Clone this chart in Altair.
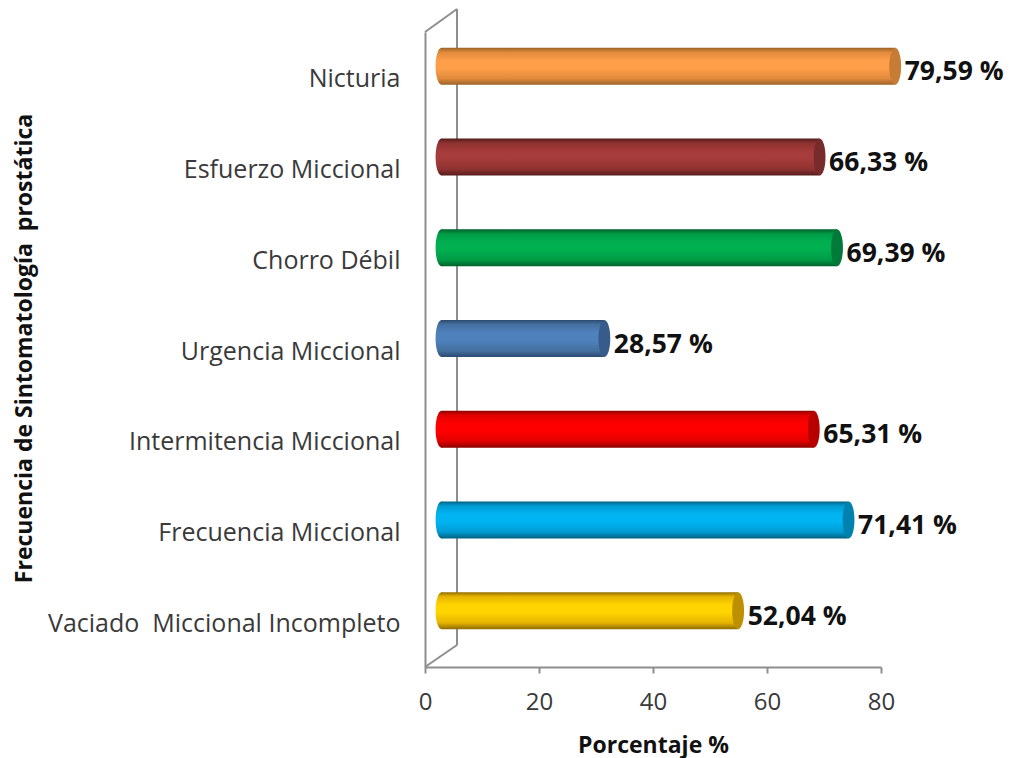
import altair as alt
import pandas as pd

# Symptom frequencies, listed top to bottom
categories = [
    "Nicturia",
    "Esfuerzo Miccional",
    "Chorro Débil",
    "Urgencia Miccional",
    "Intermitencia Miccional",
    "Frecuencia Miccional",
    "Vaciado\u00a0\u00a0Miccional Incompleto",
]
values = [79.59, 66.33, 69.39, 28.57, 65.31, 71.41, 52.04]
bright = ["#FF9F4A", "#A63C3B", "#00B050", "#4F81BD", "#FF0000", "#00B4F2", "#FFD400"]
mid = ["#E08A3C", "#8E3231", "#009A45", "#44709F", "#E00000", "#009BD2", "#E6B400"]
edge = ["#9C6228", "#551C1B", "#00602C", "#2C4A70", "#8C0000", "#00617F", "#8F6C00"]
cap = ["#C67C34", "#772B2A", "#007A38", "#375C8C", "#B80000", "#0082B0", "#BC9000"]

BAR_H = 37
DEPTH_X = 16.5
DEPTH_Y = -11
AXIS_GREY = "#8E8E8E"
FONT = "Open Sans"
CAP_PATH = "M-0.32,0 C-0.32,-0.55 -0.18,-1 0,-1 C0.18,-1 0.32,-0.55 0.32,0 C0.32,0.55 0.18,1 0,1 C-0.18,1 -0.32,0.55 -0.32,0 Z"

x_scale = alt.Scale(domain=[0, 80], range=[0, 456], nice=False, zero=True)
y_scale = alt.Scale(domain=categories, paddingInner=0, paddingOuter=0)

x_axis = alt.Axis(
    title="Porcentaje %",
    values=[0, 20, 40, 60, 80],
    grid=False,
    labelFont=FONT,
    labelFontSize=24,
    labelColor="#3A3A3A",
    labelPadding=17,
    labelFlush=False,
    domainColor=AXIS_GREY,
    domainWidth=2,
    tickColor=AXIS_GREY,
    tickWidth=2,
    tickSize=6,
    titleFont=FONT,
    titleFontSize=23,
    titleFontWeight="bold",
    titleColor="#111111",
    titleX=228,
    titleY=67,
)
y_axis = alt.Axis(
    title="Frecuencia de Sintomatología\u00a0\u00a0prostática",
    grid=False,
    ticks=False,
    labelFont=FONT,
    labelFontSize=25,
    labelColor="#3A3A3A",
    labelPadding=25,
    labelLimit=400,
    labelOffset=2,
    domainColor=AXIS_GREY,
    domainWidth=2,
    titleFont=FONT,
    titleFontSize=23,
    titleFontWeight="bold",
    titleColor="#111111",
    titleAngle=270,
    titleX=-389,
    titleY=316,
)


def wall(x1, y1, x2, y2):
    """One grey edge of the chart's back wall, in plot-area pixels."""
    return alt.Chart(pd.DataFrame({"k": [0]})).mark_rule(
        color=AXIS_GREY, strokeWidth=2
    ).encode(
        x=alt.value(x1), y=alt.value(y1), x2=alt.value(x2), y2=alt.value(y2)
    )


walls = [
    wall(0, 0, 32, -23),
    wall(32, -23, 32, 613),
    wall(32, 613, 0, 635),
]


def shading(i):
    return alt.Gradient(
        gradient="linear",
        x1=0, x2=0, y1=0, y2=1,
        stops=[
            alt.GradientStop(offset=0, color=edge[i]),
            alt.GradientStop(offset=0.12, color=mid[i]),
            alt.GradientStop(offset=0.35, color=bright[i]),
            alt.GradientStop(offset=0.55, color=bright[i]),
            alt.GradientStop(offset=0.83, color=mid[i]),
            alt.GradientStop(offset=1, color=edge[i]),
        ],
    )


layers = []
for i, (name, value) in enumerate(zip(categories, values)):
    row = pd.DataFrame({
        "symptom": [name],
        "pct": [value],
        "zero": [0],
        "label": [f"{value:.2f}".replace(".", ",") + " %"],
    })
    base = alt.Chart(row)
    y = alt.Y("symptom:N", scale=y_scale, axis=y_axis, sort=categories)
    body = base.mark_bar(
        fill=shading(i), height=BAR_H, xOffset=DEPTH_X, x2Offset=DEPTH_X,
        yOffset=DEPTH_Y, y2Offset=DEPTH_Y,
    ).encode(
        x=alt.X("zero:Q", scale=x_scale, axis=x_axis),
        x2="pct:Q",
        y=y,
    )
    start = base.mark_point(
        shape=CAP_PATH, filled=True, fill=shading(i), opacity=1, size=BAR_H ** 2,
        strokeWidth=0, xOffset=DEPTH_X, yOffset=DEPTH_Y,
    ).encode(x=alt.X("zero:Q", scale=x_scale, axis=x_axis), y=y)
    end = base.mark_point(
        shape=CAP_PATH, filled=True, fill=cap[i], opacity=1, size=BAR_H ** 2,
        strokeWidth=0, xOffset=DEPTH_X, yOffset=DEPTH_Y,
    ).encode(x=alt.X("pct:Q", scale=x_scale, axis=x_axis), y=y)
    text = base.mark_text(
        align="left", baseline="middle", font=FONT, fontSize=26.5, fontWeight="bold",
        color="#111111", xOffset=26, yOffset=-5,
    ).encode(x=alt.X("pct:Q", scale=x_scale, axis=x_axis), y=y, text="label:N")
    layers += [body, start, end, text]

chart = alt.layer(*walls, *layers).properties(
    width=456,
    height=635,
    padding={"left": 425, "top": 32, "right": 131, "bottom": 91},
    autosize=alt.AutoSizeParams(type="none"),
    background="white",
).configure_view(stroke=None)

chart.save("out.html", embed_options={"renderer": "svg", "actions": False})
